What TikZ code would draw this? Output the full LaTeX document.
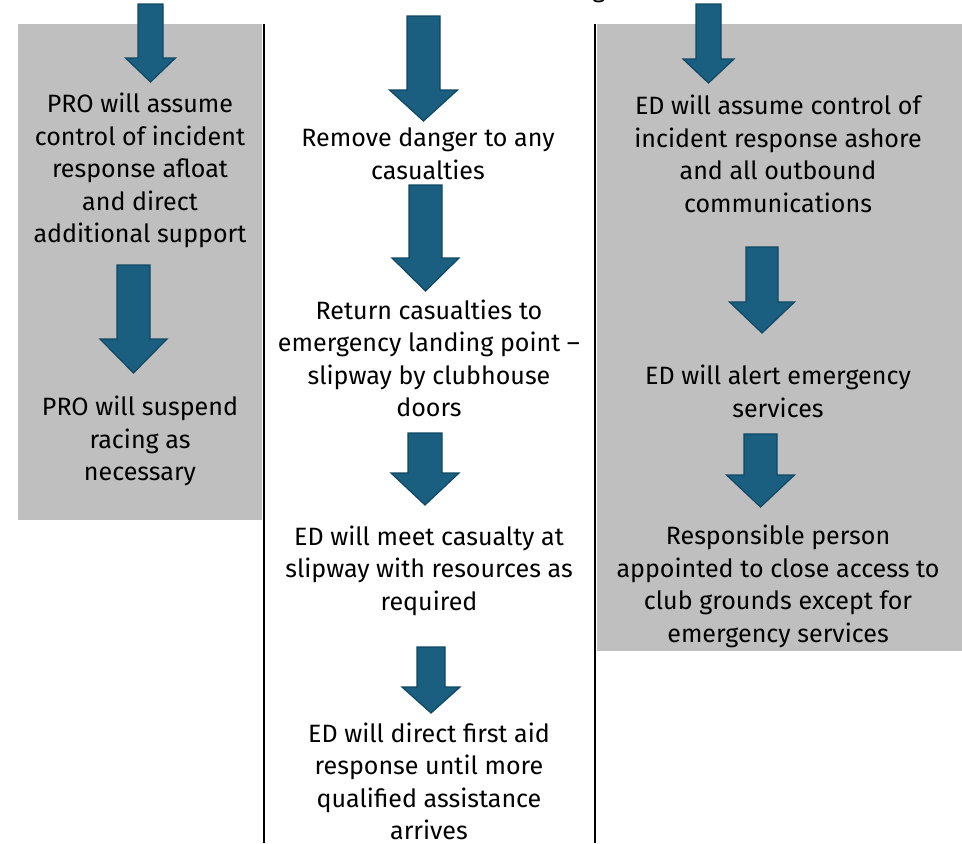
\documentclass[tikz,border=0pt]{standalone}
\usepackage{fontspec}
\setmainfont{Fira Sans}
\usetikzlibrary{positioning}
\definecolor{Ac}{HTML}{1A5E80}
\definecolor{Ae}{HTML}{0F4863}
\definecolor{panel}{HTML}{BFBFBF}
\tikzset{
  blk/.style={fill=Ac, draw=Ae, line width=0.9pt, line join=miter},
  pane/.style={fill=panel, draw=none},
  sep/.style={black, line width=1.5pt},
  txt/.style={align=center, inner sep=0pt, font=\fontsize{18.8}{24.4}\selectfont},
}
\newcommand{\blkarrow}[6]{%
  \draw[blk] ({#1-#3},#2) -- ({#1+#3},#2) -- ({#1+#3},#4) -- ({#1+#5},#4)
    -- (#1,#6) -- ({#1-#5},#4) -- ({#1-#3},#4) -- cycle;}
\begin{document}
\begin{tikzpicture}[x=0.75pt, y=-0.75pt]
  \useasboundingbox (0,0) rectangle (962,843);
  \fill[pane] (18,24) rectangle (262,520);
  \fill[pane] (597,24) rectangle (962,651);
  \draw[sep] (264,24) -- (264,843);
  \draw[sep] (595,24) -- (595,843);
  \node[txt, anchor=south] (cut) at (599,3) {g};
  \blkarrow{150.5}{4}{12.5}{58}{25}{82}
  \blkarrow{133.5}{265}{16.5}{339}{33.5}{373}
  \blkarrow{423.5}{16}{16.5}{90}{34}{121}
  \blkarrow{425.5}{185}{16.5}{258}{33.5}{291}
  \blkarrow{425}{433}{17}{473}{34}{505}
  \blkarrow{431}{647}{14}{687}{29}{713}
  \blkarrow{708.5}{4}{12.5}{59}{25.5}{83}
  \blkarrow{762}{247}{16}{302}{32.5}{333}
  \blkarrow{760.5}{434}{16.5}{475}{34}{507}
  \node[txt] (proA) at (140,170.5) {PRO will assume\\control of incident\\response afloat\\and direct\\additional support};
  \node[txt] (proB) at (140,441) {PRO will suspend\\racing as\\necessary};
  \node[txt] (remove) at (428,154) {Remove danger to any\\casualties};
  \node[txt] (ret) at (429,358.5) {Return casualties to\\emergency landing point --\\slipway by clubhouse\\doors};
  \node[txt] (meet) at (429,570.5) {ED will meet casualty at\\slipway with resources as\\required};
  \node[txt] (aid) at (429,781.5) {ED will direct first aid\\response until more\\qualified assistance\\arrives};
  \node[txt] (edA) at (778,154) {ED will assume control of\\incident response ashore\\and all outbound\\communications};
  \node[txt] (edB) at (778,391.5) {ED will alert emergency\\services};
  \node[txt] (resp) at (778,586.5) {Responsible person\\appointed to close access to\\club grounds except for\\emergency services};
\end{tikzpicture}
\end{document}
